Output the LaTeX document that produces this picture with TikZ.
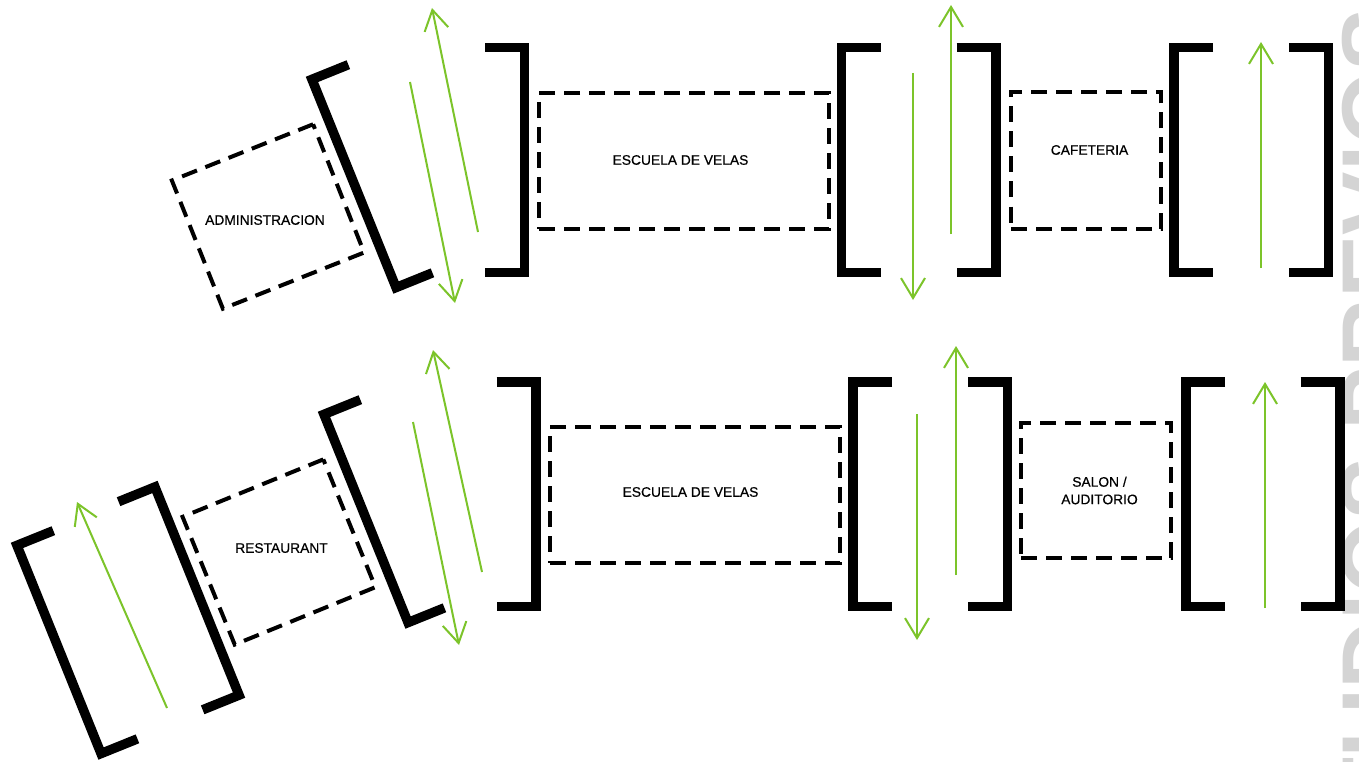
\documentclass[tikz,border=0pt]{standalone}
\usepackage{fontspec}
\setmainfont{Liberation Sans}
\newfontfamily\lblfont[FakeBold=0.5]{Liberation Sans}
\usetikzlibrary{arrows.meta}
\definecolor{grn}{RGB}{124,196,42}
\definecolor{wm}{RGB}{212,212,212}
\tikzset{
  bk/.style={line width=9.5pt, line join=miter, line cap=butt, black},
  lbr/.pic={\draw[bk] (22,-112.25) -- (-17.25,-112.25) -- (-17.25,112.25) -- (22,112.25);},
  rbr/.pic={\draw[bk] (-22,-112.25) -- (17.25,-112.25) -- (17.25,112.25) -- (-22,112.25);},
  dbox/.style={draw, line width=4pt, dash pattern=on 16pt off 9pt, inner sep=0pt},
  garrow/.style={draw=grn, line width=2pt, -{Straight Barb[length=20pt,width=24pt]}},
  lbl/.style={font={\lblfont\fontsize{13.8}{17.5}\selectfont}, inner sep=0pt, align=center},
}
\begin{document}
\begin{tikzpicture}[x=1pt,y=-1pt]
\useasboundingbox (0,0) rectangle (1359,762);
\fill[white] (0,0) rectangle (1359,762);
\begin{scope}
\clip (0,0) rectangle (1359,762);
\node[font={\fontsize{95}{100}\selectfont\bfseries}, text=wm, rotate=90, anchor=north east, inner sep=0pt] (wmark) at (1342,8) {ESTUDIOS PREVIOS};
\end{scope}

% ---------- top row ----------
\node[dbox, rotate=21.7, minimum width=152pt, minimum height=138pt] (adminbox) at (268,216.5) {};
\node[lbl] (admin) at (265,220) {ADMINISTRACION};
\pic[rotate=22] at (370,177) {lbr};
\coordinate (a1s) at (410,82);  \coordinate (a1e) at (455,303);
\coordinate (a2s) at (478,232); \coordinate (a2e) at (432,8);
\draw[garrow] (a1s) -- (a1e);
\draw[garrow] (a2s) -- (a2e);
\pic at (507,160) {rbr};
\node[dbox, minimum width=290pt, minimum height=136pt] (esc1box) at (684,161) {};
\node[lbl] (esc1) at (680.5,160) {ESCUELA DE VELAS};
\pic at (858.5,160) {lbr};
\coordinate (a3s) at (913,73);  \coordinate (a3e) at (913,300);
\coordinate (a4s) at (951,234); \coordinate (a4e) at (951,5);
\draw[garrow] (a3s) -- (a3e);
\draw[garrow] (a4s) -- (a4e);
\pic at (978.5,160) {rbr};
\node[dbox, minimum width=150pt, minimum height=136pt] (cafbox) at (1086,160.5) {};
\node[lbl] (caf) at (1089.5,150) {CAFETERIA};
\pic at (1191,160) {lbr};
\coordinate (a5s) at (1261,268); \coordinate (a5e) at (1261,42);
\draw[garrow] (a5s) -- (a5e);
\pic at (1311,160) {rbr};

% ---------- bottom row ----------
\pic[rotate=22] at (75,643) {lbr};
\coordinate (b0s) at (167,708); \coordinate (b0e) at (77,502);
\draw[garrow] (b0s) -- (b0e);
\pic[rotate=22] at (181,597.5) {rbr};
\node[dbox, rotate=22.2, minimum width=152pt, minimum height=138pt] (restbox) at (279,552) {};
\node[lbl] (rest) at (281.5,548) {RESTAURANT};
\pic[rotate=22] at (382,512) {lbr};
\coordinate (b1s) at (413,422); \coordinate (b1e) at (459,645);
\coordinate (b2s) at (482,572); \coordinate (b2e) at (433,350);
\draw[garrow] (b1s) -- (b1e);
\draw[garrow] (b2s) -- (b2e);
\pic at (518.5,494) {rbr};
\node[dbox, minimum width=290pt, minimum height=136pt] (esc2box) at (695,495) {};
\node[lbl] (esc2) at (690.5,492) {ESCUELA DE VELAS};
\pic at (870,494) {lbr};
\coordinate (b3s) at (917,414); \coordinate (b3e) at (917,640);
\coordinate (b4s) at (956,575); \coordinate (b4e) at (956,346);
\draw[garrow] (b3s) -- (b3e);
\draw[garrow] (b4s) -- (b4e);
\pic at (990,494) {rbr};
\node[dbox, minimum width=150pt, minimum height=135pt] (salbox) at (1096,490.5) {};
\node[lbl] (sal) at (1099.5,490.5) {SALON /\\AUDITORIO};
\pic at (1203,494) {lbr};
\coordinate (b5s) at (1265,608); \coordinate (b5e) at (1265,382);
\draw[garrow] (b5s) -- (b5e);
\pic at (1322.5,494) {rbr};
\end{tikzpicture}
\end{document}
